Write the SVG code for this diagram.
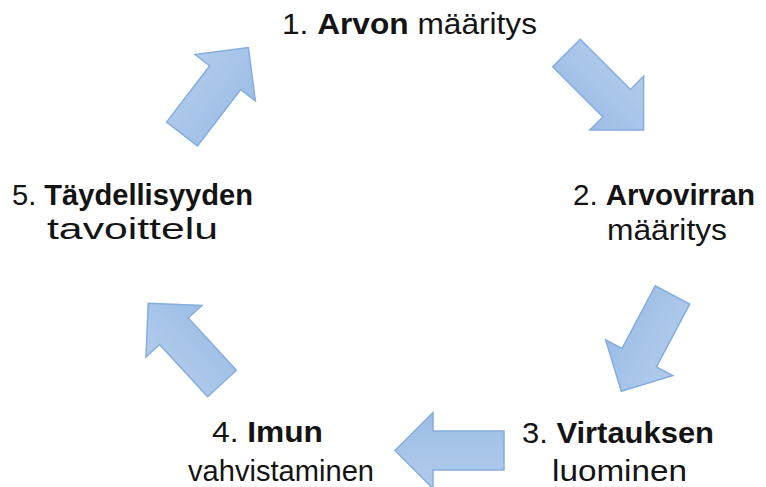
<svg xmlns="http://www.w3.org/2000/svg" width="766" height="487" viewBox="0 0 766 487">
  <style>
    .lbl { font-family: "Liberation Sans", Arial, sans-serif; font-size: 30px; fill: #141414; }
    .b { font-weight: bold; }
    .arr { fill: url(#arrFill); stroke: #86addf; stroke-width: 1.5; stroke-linejoin: miter; }
  </style>
  <defs>
    <linearGradient id="arrFill" x1="0" y1="0" x2="0" y2="1">
      <stop offset="0" stop-color="#b1ccec"/>
      <stop offset="1" stop-color="#9dbde6"/>
    </linearGradient>
    <!-- block arrow pointing along +x, tail centre at origin -->
    <path id="blockArrow" d="M0,-19.5 L71,-19.5 L71,-38 L109,0 L71,38 L71,19.5 L0,19.5 Z"/>
  </defs>

  <g id="connectors">
    <use href="#blockArrow" class="arr" transform="translate(182,134) rotate(-52.5)"/>
    <use href="#blockArrow" class="arr" transform="translate(566.5,53) rotate(45)"/>
    <use href="#blockArrow" class="arr" transform="translate(672.5,295) rotate(118)"/>
    <use href="#blockArrow" class="arr" transform="translate(504,450.5) rotate(180)"/>
    <use href="#blockArrow" class="arr" transform="translate(222,383.5) rotate(-132.6)"/>
  </g>

  <g id="step1">
    <text class="lbl" x="282" y="34" textLength="255" lengthAdjust="spacingAndGlyphs">1. <tspan class="b">Arvon</tspan> määritys</text>
  </g>
  <g id="step2">
    <text class="lbl" x="573" y="205" textLength="182" lengthAdjust="spacingAndGlyphs">2. <tspan class="b">Arvovirran</tspan></text>
    <text class="lbl" x="607" y="240" textLength="120" lengthAdjust="spacingAndGlyphs">määritys</text>
  </g>
  <g id="step3">
    <text class="lbl" x="522" y="443" textLength="192" lengthAdjust="spacingAndGlyphs">3. <tspan class="b">Virtauksen</tspan></text>
    <text class="lbl" x="552" y="481" textLength="135" lengthAdjust="spacingAndGlyphs">luominen</text>
  </g>
  <g id="step4">
    <text class="lbl" x="212" y="442" textLength="111" lengthAdjust="spacingAndGlyphs">4. <tspan class="b">Imun</tspan></text>
    <text class="lbl" x="188" y="481" textLength="186" lengthAdjust="spacingAndGlyphs">vahvistaminen</text>
  </g>
  <g id="step5">
    <text class="lbl" x="12" y="205" textLength="241" lengthAdjust="spacingAndGlyphs">5. <tspan class="b">Täydellisyyden</tspan></text>
    <text class="lbl" x="47" y="239" textLength="171" lengthAdjust="spacingAndGlyphs">tavoittelu</text>
  </g>
</svg>
